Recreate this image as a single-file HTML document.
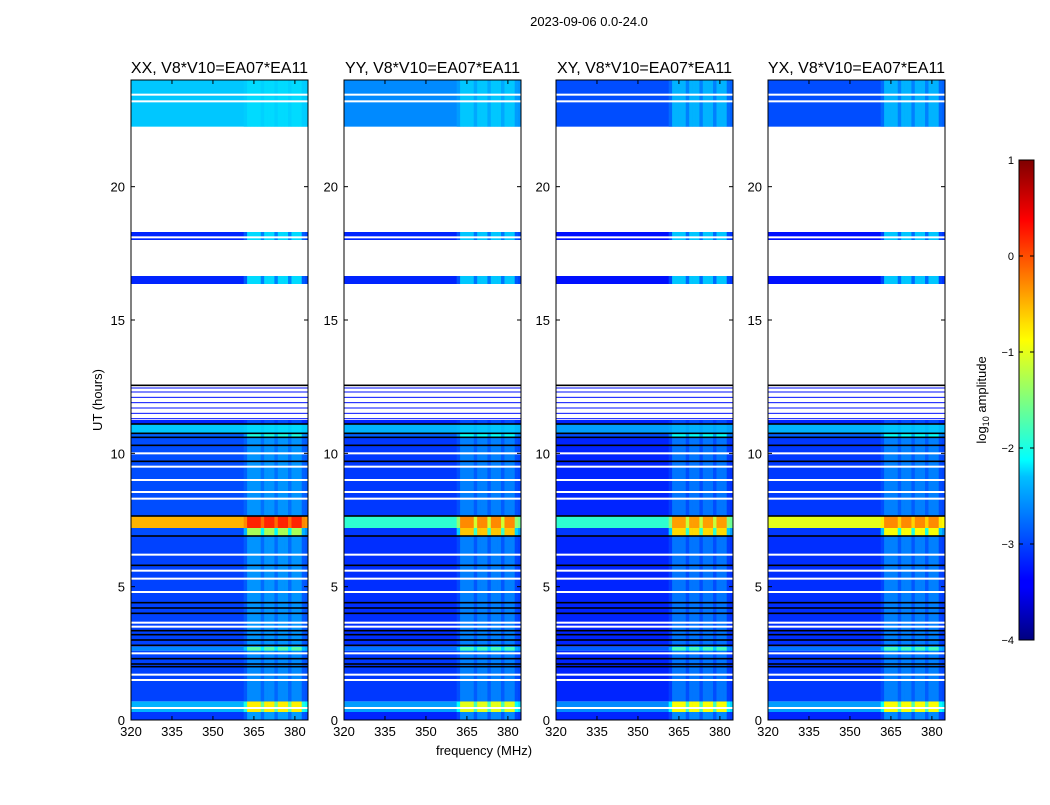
<!DOCTYPE html>
<html><head><meta charset="utf-8">
<style>
body{margin:0;background:#fff;font-family:"Liberation Sans",sans-serif;}
svg text{font-family:"Liberation Sans",sans-serif;}
</style></head>
<body>
<svg id="fig" width="1050" height="800" xmlns="http://www.w3.org/2000/svg">
<defs>
<linearGradient id="jet" x1="0" y1="1" x2="0" y2="0">
<stop offset="0" stop-color="#00007f"/><stop offset="0.11" stop-color="#0000ff"/><stop offset="0.125" stop-color="#0000ff"/>
<stop offset="0.34" stop-color="#00c0ff"/><stop offset="0.375" stop-color="#00ffff"/><stop offset="0.5" stop-color="#7fff7f"/>
<stop offset="0.625" stop-color="#ffff00"/><stop offset="0.66" stop-color="#ffdf00"/><stop offset="0.875" stop-color="#ff0000"/><stop offset="1" stop-color="#7f0000"/>
</linearGradient>
</defs>
<rect width="1050" height="800" fill="#fff"/>
<text x="589" y="26" font-size="13" text-anchor="middle">2023-09-06 0.0-24.0</text>
<text x="484" y="755" font-size="13" text-anchor="middle">frequency (MHz)</text>
<text transform="translate(102,400) rotate(-90)" font-size="13" text-anchor="middle">UT (hours)</text>
<g id="panels"></g>
<g id="cbar">
<rect x="1019" y="160" width="15" height="480" fill="url(#jet)" stroke="#000" stroke-width="1"/>
</g>
<text transform="translate(986,400) rotate(-90)" font-size="13" text-anchor="middle">log<tspan font-size="9" dy="3">10</tspan><tspan dy="-3"> amplitude</tspan></text>
</svg>
<script>
// ---- data ----
const panelTitles = ["XX, V8*V10=EA07*EA11","YY, V8*V10=EA07*EA11","XY, V8*V10=EA07*EA11","YX, V8*V10=EA07*EA11"];
const segStart = [0, 0.3, 0.7, 2.6, 2.75, 6.9, 7.2, 7.65, 10.6, 10.75, 11.1, 16.35, 18.0, 22.25];
const segEnd   = [0.3, 0.7, 2.6, 2.75, 6.9, 7.2, 7.65, 10.6, 10.75, 11.1, 11.25, 16.65, 18.3, 24];
const baseXX = [-3.1,-2.5,-3.05,-2.7,-3.05,-3.0,-0.5,-3.0,-2.9,-2.4,-3.2,-3.2,-3.2,-2.4];
const baseYY = [-3.2,-2.6,-3.1,-2.8,-3.15,-3.1,-1.9,-3.1,-2.9,-2.5,-3.2,-3.2,-3.2,-2.7];
const baseXY = [-3.2,-2.7,-3.2,-2.9,-3.2,-3.1,-1.9,-3.2,-3.0,-2.6,-3.2,-3.3,-3.3,-3.0];
const baseYX = [-3.2,-2.6,-3.1,-2.8,-3.15,-3.1,-1.0,-3.1,-2.9,-2.5,-3.2,-3.3,-3.3,-3.0];
const rfiXX = [-2.6,-0.8,-2.7,-1.7,-2.65,-1.3, 0.2,-2.65,-2.0,-2.3,-3.0,-2.3,-2.3,-2.3];
const rfiYY = [-2.7,-1.0,-2.75,-1.8,-2.75,-0.6,-0.3,-2.75,-2.1,-2.4,-3.0,-2.4,-2.4,-2.4];
const rfiXY = [-2.7,-0.9,-2.8,-1.8,-2.8,-0.7,-0.4,-2.8,-2.1,-2.5,-3.0,-2.4,-2.4,-2.5];
const rfiYX = [-2.7,-0.9,-2.75,-1.8,-2.75,-0.9,-0.3,-2.75,-2.1,-2.4,-3.0,-2.4,-2.4,-2.5];
// frequency channels (1.25 MHz) starting at 320 MHz; weight of RFI level per channel
const chanProfile = [0,0,0,0,0,0,0,0,0,0, 0,0,0,0,0,0,0,0,0,0, 0,0,0,0,0,0,0,0,0,0, 0,0,0,0.3,1,1,1,1,0.5,1, 1,1,0.5,1,1,1,0.5,1,1,1, 0.3,0.2];
const whiteLines = [0.45,1.5,1.7,2.5,3.5,3.65,4.8,5.3,5.6,6.2,8.3,8.55,9.0,9.5,10.0,18.1,23.2,23.45];
const blackLines = [2.0,2.1,2.3,2.8,3.0,3.2,3.35,4.0,4.2,4.4,5.8,6.9,7.65,9.7,10.3,10.6,10.75,11.1,12.55];
const blueLines = [11.3,11.5,11.7,11.9,12.1,12.3,12.45];
const yTicks = [0,5,10,15,20];
const xTicks = [320,335,350,365,380];
const cbTicks = [1,0,-1,-2,-3,-4];
// ---- layout ----
const panelX = [131,344,556,768], pw = 177, plotTop = 80, plotBot = 720;
const bases = [baseXX,baseYY,baseXY,baseYX], rfis = [rfiXX,rfiYY,rfiXY,rfiYX];
const fMin = 320, fMax = 384.8, chanW = 1.25;
const yOf = h => plotBot - (h/24)*(plotBot-plotTop);
function jet(v){
  const u = Math.max(0,Math.min(1,(v+4)/5));
  const c = x => Math.round(255*Math.max(0,Math.min(1,x)));
  const r = c(Math.min(4*u-1.5,-4*u+4.5)), g = c(Math.min(4*u-0.5,-4*u+3.5)), b = c(Math.min(4*u+0.5,-4*u+2.5));
  return `rgb(${r},${g},${b})`;
}
const NS="http://www.w3.org/2000/svg";
const mk=(tag,attrs,parent)=>{const e=document.createElementNS(NS,tag);for(const k in attrs)e.setAttribute(k,attrs[k]);parent.appendChild(e);return e;};
const root=document.getElementById('panels');
panelTitles.forEach((title,p)=>{
  const x0=panelX[p], xOf=f=>x0+(f-fMin)/(fMax-fMin)*pw;
  const g=mk('g',{},root);
  
  
  segStart.forEach((s,i)=>{
    const y1=yOf(segEnd[i]), y2=yOf(s);
    const bg=mk('rect',{x:x0,y:y1,width:pw,height:y2-y1,fill:jet(bases[p][i])},g);
    
    
    chanProfile.forEach((w,k)=>{
      if(w<=0)return;
      const v=bases[p][i]+(rfis[p][i]-bases[p][i])*w;
      const xa=xOf(fMin+k*chanW), xb=Math.min(x0+pw,xOf(fMin+(k+1)*chanW));
      if(xb<=xa)return;
      const c=mk('rect',{x:xa,y:y1,width:Math.min(xb-xa+0.3,x0+pw-xa),height:y2-y1,fill:jet(v)},g);
      
      
    });
  });
  blueLines.forEach(h=>{const l=mk('rect',{x:x0,y:yOf(h)-0.5,width:pw,height:1,fill:jet(-3.3)},g);
    
    });
  whiteLines.forEach(h=>{const l=mk('rect',{x:x0,y:yOf(h)-1,width:pw,height:2,fill:'#fff'},g);
    
    });
  blackLines.forEach(h=>{const l=mk('rect',{x:x0,y:yOf(h)-0.8,width:pw,height:1.6,fill:'#000'},g);
    
    });
  const fr=mk('rect',{x:x0,y:plotTop,width:pw,height:plotBot-plotTop,fill:'none',stroke:'#000','stroke-width':1},g);
  
  
  const tt=mk('text',{x:x0+pw/2,y:73,'font-size':16,'text-anchor':'middle'},g);tt.textContent=title;
  
  
  yTicks.forEach(h=>{const y=yOf(h);
    mk('line',{x1:x0,x2:x0+4,y1:y,y2:y,stroke:'#000'},g);mk('line',{x1:x0+pw-4,x2:x0+pw,y1:y,y2:y,stroke:'#000'},g);
    const tl=mk('text',{x:x0-6,y:y+5,'font-size':13,'text-anchor':'end'},g);tl.textContent=h;
    
    });
  xTicks.forEach(f=>{const x=xOf(f);
    mk('line',{x1:x,x2:x,y1:plotBot,y2:plotBot-4,stroke:'#000'},g);mk('line',{x1:x,x2:x,y1:plotTop,y2:plotTop+4,stroke:'#000'},g);
    const tl=mk('text',{x:x,y:plotBot+16,'font-size':13,'text-anchor':'middle'},g);tl.textContent=f;
    
    });
});
const cb=document.getElementById('cbar');
cbTicks.forEach(v=>{const y=160+(1-v)/5*480;
  mk('line',{x1:1019,x2:1023,y1:y,y2:y,stroke:'#000'},cb);mk('line',{x1:1030,x2:1034,y1:y,y2:y,stroke:'#000'},cb);
  const tl=mk('text',{x:1014,y:y+4,'font-size':11,'text-anchor':'end'},cb);tl.textContent=(v<0?'\u2212'+(-v):v);
  
  });
</script>
</body></html>
